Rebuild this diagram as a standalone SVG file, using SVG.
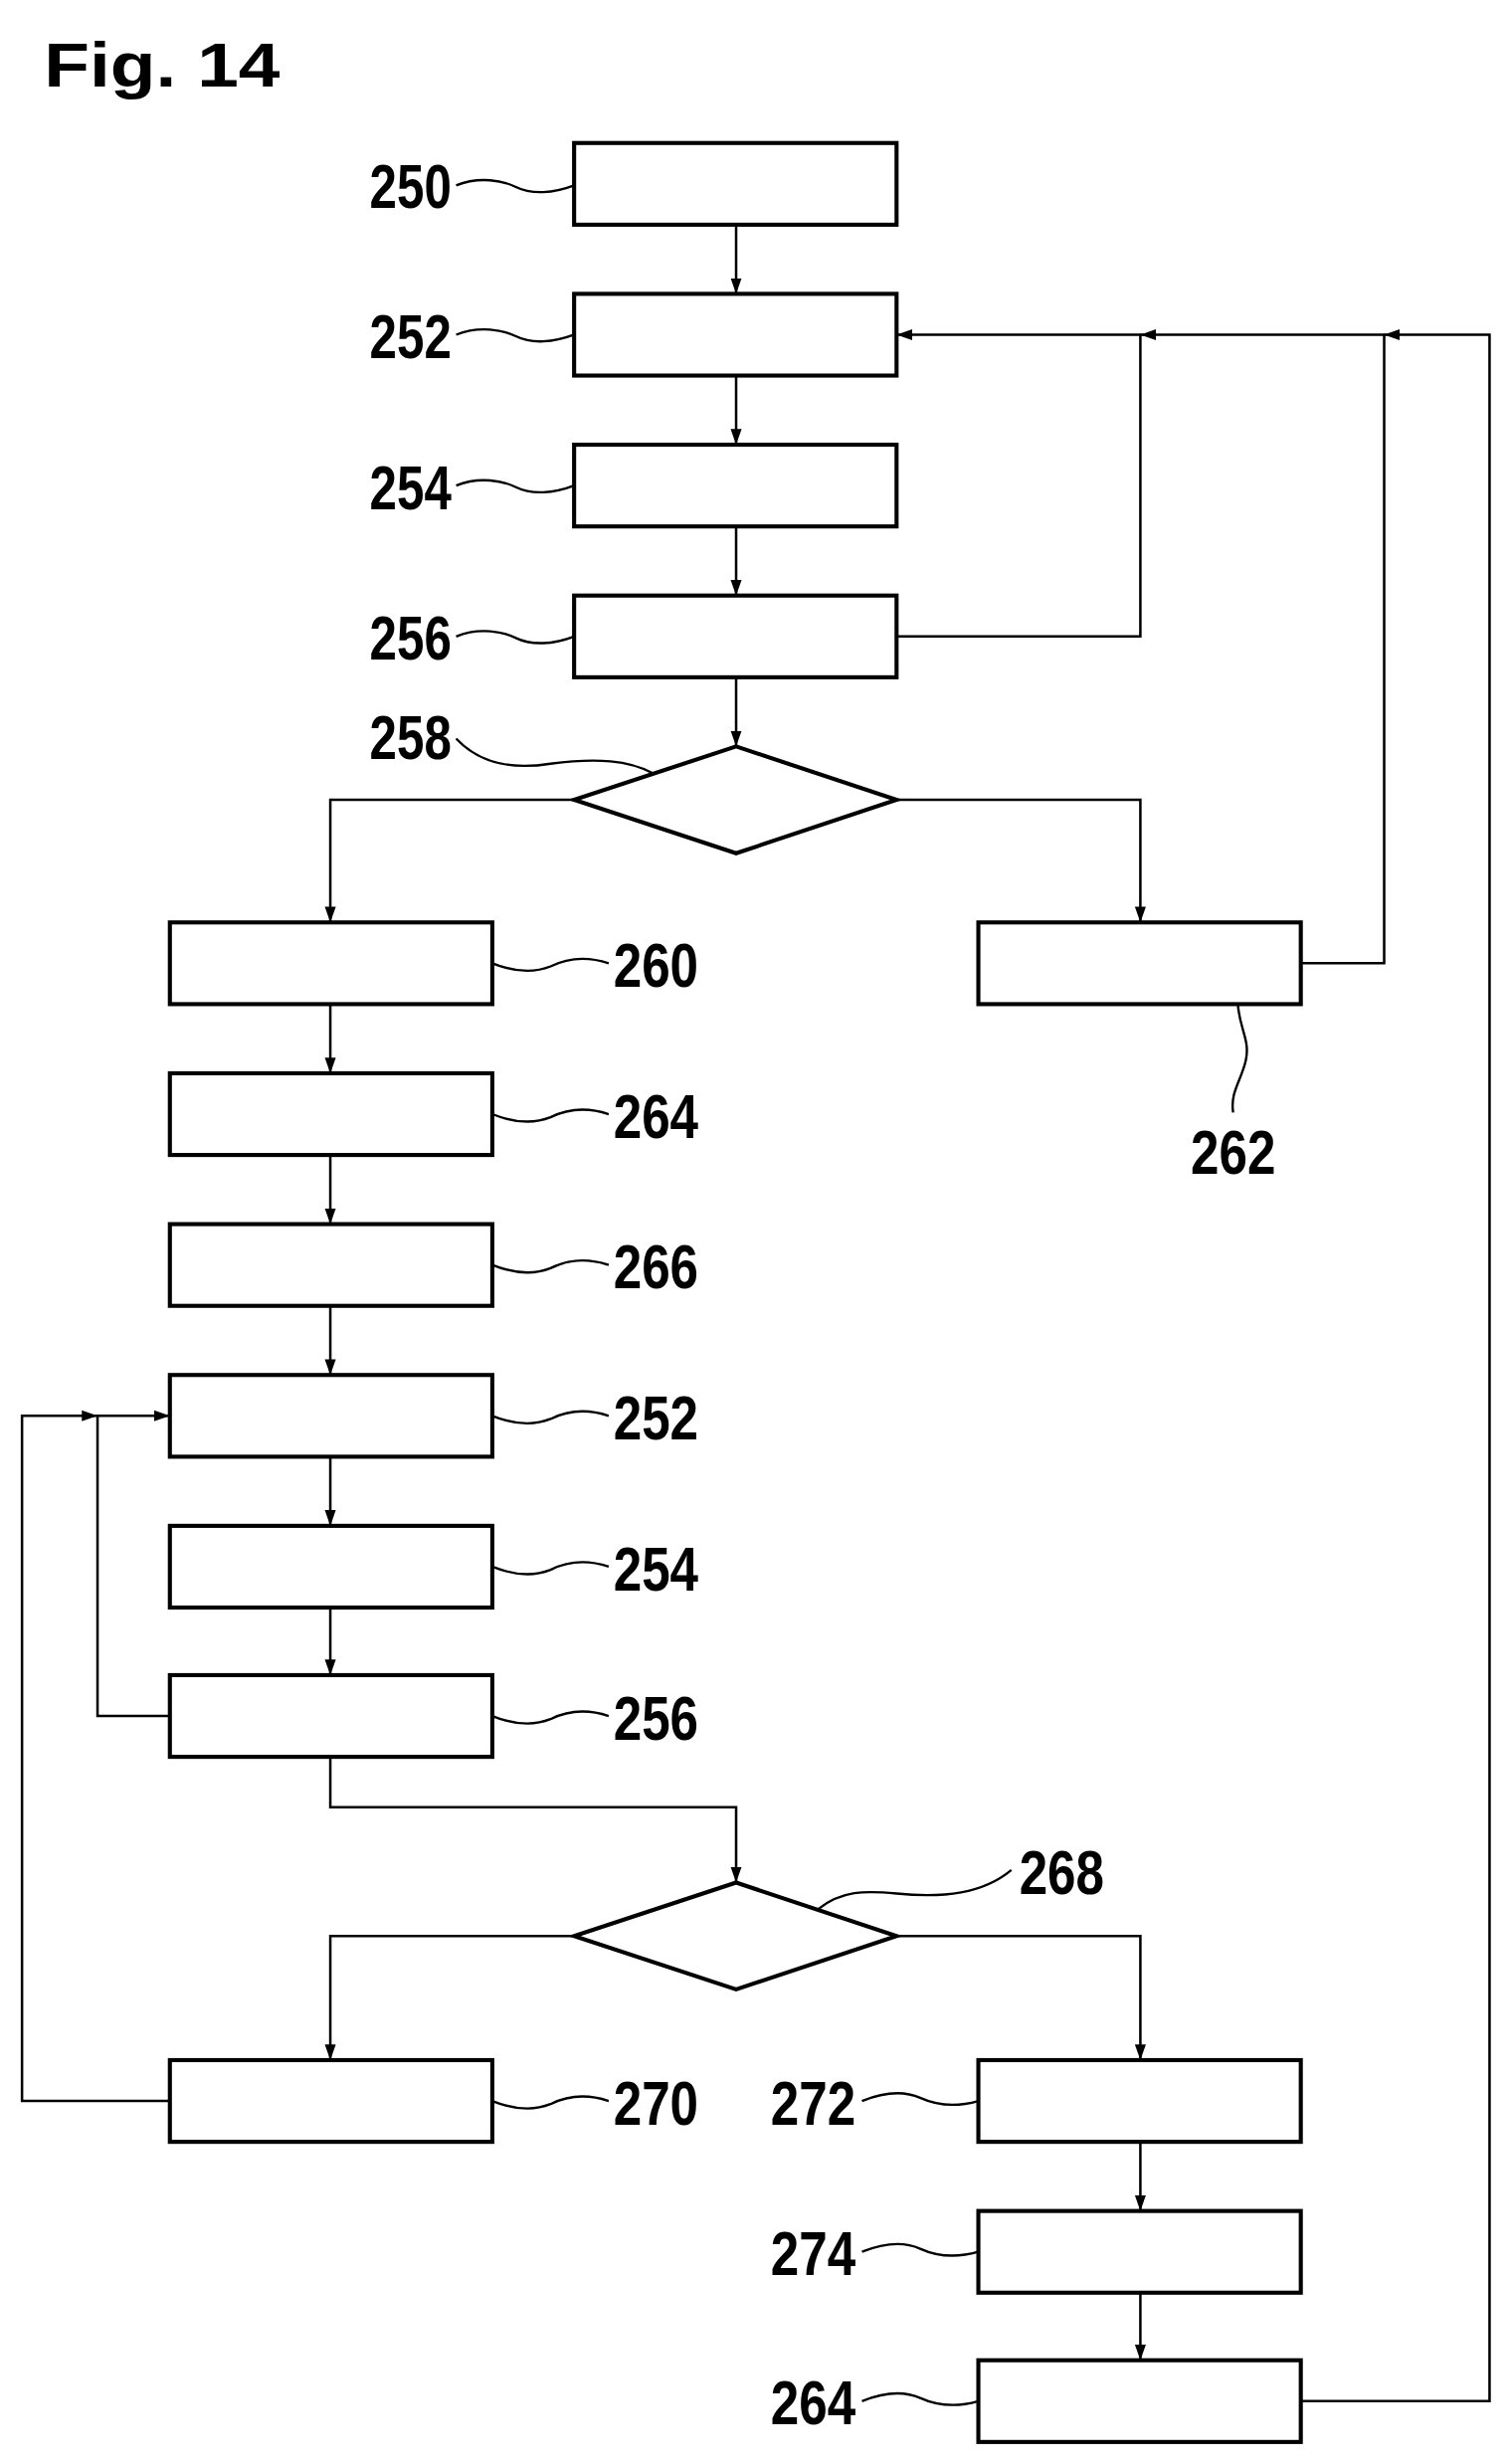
<svg xmlns="http://www.w3.org/2000/svg" width="1518" height="2477" viewBox="0 0 1518 2477">
<style>
.b{fill:#fff;stroke:#000;stroke-width:2.6}
.c{fill:none;stroke:#000;stroke-width:1.6}
.l{fill:none;stroke:#000;stroke-width:1.5}
.t{font-family:"Liberation Sans",Arial,sans-serif;font-weight:bold;font-size:40px;fill:#000}
</style>
<defs>
<marker id="a" viewBox="0 0 10 10" refX="10" refY="5" markerWidth="10" markerHeight="10" markerUnits="userSpaceOnUse" orient="auto"><path d="M0,1.5 L10,5 L0,8.5 Z" fill="#000"/></marker>
</defs>
<rect width="1518" height="2477" fill="#fff"/>
<g transform="scale(1.58125,1.5797)">
<text class="t" x="28" y="55" font-size="54" textLength="150" lengthAdjust="spacingAndGlyphs">Fig. 14</text>
<g id="connectors">
<path class="c" d="M468,143 V187" marker-end="url(#a)"/>
<path class="c" d="M468,239 V283" marker-end="url(#a)"/>
<path class="c" d="M468,335 V379" marker-end="url(#a)"/>
<path class="c" d="M468,431 V475" marker-end="url(#a)"/>
<path class="c" d="M570,405 H725 V213 H570" marker-end="url(#a)"/>
<path class="c" d="M827,613 H880 V213 H725" marker-end="url(#a)"/>
<path class="c" d="M827,1528 H947 V213 H880" marker-end="url(#a)"/>
<path class="c" d="M365,509 H210 V587" marker-end="url(#a)"/>
<path class="c" d="M570,509 H725 V587" marker-end="url(#a)"/>
<path class="c" d="M210,639 V683" marker-end="url(#a)"/>
<path class="c" d="M210,735 V779" marker-end="url(#a)"/>
<path class="c" d="M210,831 V875" marker-end="url(#a)"/>
<path class="c" d="M210,927 V971" marker-end="url(#a)"/>
<path class="c" d="M210,1023 V1066" marker-end="url(#a)"/>
<path class="c" d="M108,1092 H62 V901 H108" marker-end="url(#a)"/>
<path class="c" d="M108,1337 H14 V901 H62" marker-end="url(#a)"/>
<path class="c" d="M210,1118 V1150 H468 V1198" marker-end="url(#a)"/>
<path class="c" d="M365,1232 H210 V1311" marker-end="url(#a)"/>
<path class="c" d="M570,1232 H725 V1311" marker-end="url(#a)"/>
<path class="c" d="M725,1363 V1407" marker-end="url(#a)"/>
<path class="c" d="M725,1459 V1502" marker-end="url(#a)"/>
</g>
<g id="n250"><rect class="b" x="365" y="91" width="205" height="52"/><text class="t" x="235" y="132" textLength="52" lengthAdjust="spacingAndGlyphs">250</text><path class="l" d="M290,118 C305,112 320,115 328,119 C338,124 352,123 365,118"/></g>
<g id="n252"><rect class="b" x="365" y="187" width="205" height="52"/><text class="t" x="235" y="228" textLength="52" lengthAdjust="spacingAndGlyphs">252</text><path class="l" d="M290,213 C305,207 320,210 328,214 C338,219 352,218 365,213"/></g>
<g id="n254"><rect class="b" x="365" y="283" width="205" height="52"/><text class="t" x="235" y="324" textLength="52" lengthAdjust="spacingAndGlyphs">254</text><path class="l" d="M290,309 C305,303 320,306 328,310 C338,315 352,314 365,309"/></g>
<g id="n256"><rect class="b" x="365" y="379" width="205" height="52"/><text class="t" x="235" y="420" textLength="52" lengthAdjust="spacingAndGlyphs">256</text><path class="l" d="M290,405 C305,399 320,402 328,406 C338,411 352,410 365,405"/></g>
<g id="n258"><path class="b" d="M468,475 L570,509 L468,543 L365,509 Z"/><text class="t" x="235" y="483" textLength="52" lengthAdjust="spacingAndGlyphs">258</text><path class="l" d="M290,470 C305,486 325,490 350,486 C380,482 400,484 415,492"/></g>
<g id="n260"><rect class="b" x="108" y="587" width="205" height="52"/><text class="t" x="390" y="628" textLength="54" lengthAdjust="spacingAndGlyphs">260</text><path class="l" d="M313,613 C328,619 340,619 350,615 C360,610 372,608 387,613"/></g>
<g id="n262"><rect class="b" x="622" y="587" width="205" height="52"/><text class="t" x="757" y="747" textLength="54" lengthAdjust="spacingAndGlyphs">262</text><path class="l" d="M787,639 C788,655 795,662 792,675 C789,688 782,695 784,708"/></g>
<g id="n264"><rect class="b" x="108" y="683" width="205" height="52"/><text class="t" x="390" y="724" textLength="54" lengthAdjust="spacingAndGlyphs">264</text><path class="l" d="M313,709 C328,715 340,715 350,711 C360,706 372,704 387,709"/></g>
<g id="n266"><rect class="b" x="108" y="779" width="205" height="52"/><text class="t" x="390" y="820" textLength="54" lengthAdjust="spacingAndGlyphs">266</text><path class="l" d="M313,805 C328,811 340,811 350,807 C360,802 372,800 387,805"/></g>
<g id="n252b"><rect class="b" x="108" y="875" width="205" height="52"/><text class="t" x="390" y="916" textLength="54" lengthAdjust="spacingAndGlyphs">252</text><path class="l" d="M313,901 C328,907 340,907 350,903 C360,898 372,896 387,901"/></g>
<g id="n254b"><rect class="b" x="108" y="971" width="205" height="52"/><text class="t" x="390" y="1012" textLength="54" lengthAdjust="spacingAndGlyphs">254</text><path class="l" d="M313,997 C328,1003 340,1003 350,999 C360,994 372,992 387,997"/></g>
<g id="n256b"><rect class="b" x="108" y="1066" width="205" height="52"/><text class="t" x="390" y="1107" textLength="54" lengthAdjust="spacingAndGlyphs">256</text><path class="l" d="M313,1092 C328,1098 340,1098 350,1094 C360,1089 372,1087 387,1092"/></g>
<g id="n268"><path class="b" d="M468,1198 L570,1232 L468,1266 L365,1232 Z"/><text class="t" x="648" y="1205" textLength="54" lengthAdjust="spacingAndGlyphs">268</text><path class="l" d="M520,1215 C535,1203 550,1203 570,1205 C600,1208 625,1205 643,1190"/></g>
<g id="n270"><rect class="b" x="108" y="1311" width="205" height="52"/><text class="t" x="390" y="1352" textLength="54" lengthAdjust="spacingAndGlyphs">270</text><path class="l" d="M313,1337 C328,1343 340,1343 350,1339 C360,1334 372,1332 387,1337"/></g>
<g id="n272"><rect class="b" x="622" y="1311" width="205" height="52"/><text class="t" x="490" y="1352" textLength="54" lengthAdjust="spacingAndGlyphs">272</text><path class="l" d="M548,1337 C563,1331 576,1331 585,1335 C596,1340 608,1341 622,1337"/></g>
<g id="n274"><rect class="b" x="622" y="1407" width="205" height="52"/><text class="t" x="490" y="1448" textLength="54" lengthAdjust="spacingAndGlyphs">274</text><path class="l" d="M548,1433 C563,1427 576,1427 585,1431 C596,1436 608,1437 622,1433"/></g>
<g id="n264b"><rect class="b" x="622" y="1502" width="205" height="52"/><text class="t" x="490" y="1543" textLength="54" lengthAdjust="spacingAndGlyphs">264</text><path class="l" d="M548,1528 C563,1522 576,1522 585,1526 C596,1531 608,1532 622,1528"/></g>
</g>
</svg>
